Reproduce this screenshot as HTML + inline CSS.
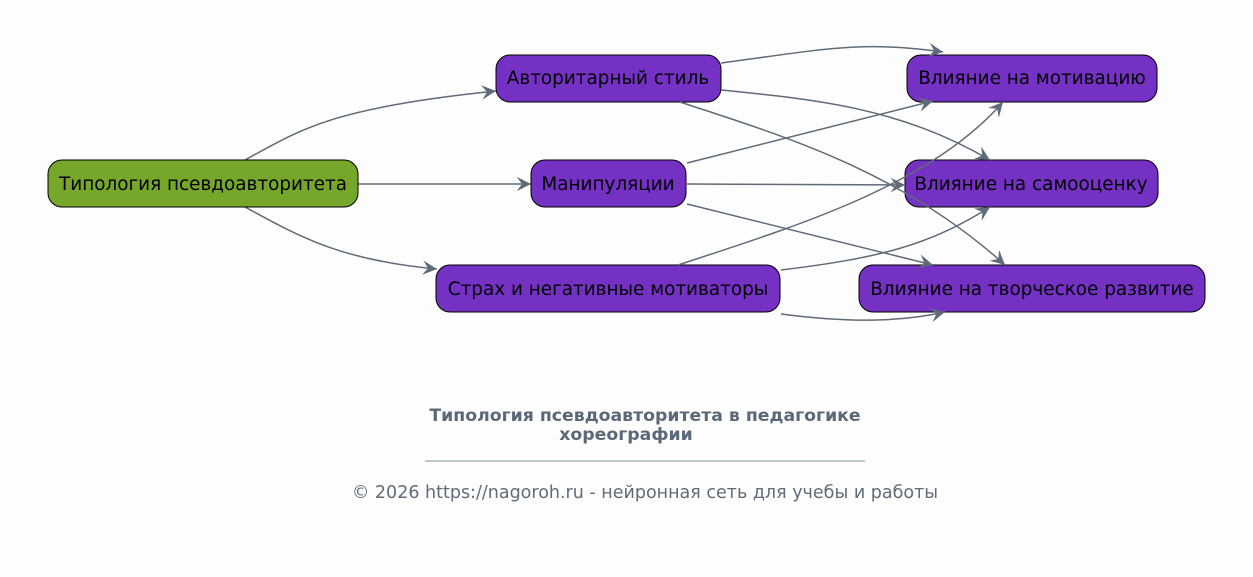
<!DOCTYPE html>
<html><head><meta charset="utf-8"><style>
body{margin:0;background:#fdfdfd;}
svg{display:block;}
text{font-family:"DejaVu Sans","Liberation Sans",sans-serif;}
</style></head><body>
<svg width="1253" height="577" viewBox="0 0 1253 577" xmlns="http://www.w3.org/2000/svg">
<defs>
<marker id="a" viewBox="0 0 20 20" refX="18" refY="10" markerWidth="18" markerHeight="18" markerUnits="userSpaceOnUse" orient="auto">
<path d="M2,2 L18,10 L2,18 L8,10 Z" fill="#5f6b78"/>
</marker>
</defs>
<rect width="1253" height="577" fill="#fdfdfd"/>
<g fill="none" stroke="#5f6b78" stroke-width="1.5">
<path d="M245,160 C300,130 330,108 496,91" marker-end="url(#a)"/>
<path d="M358,184 L531,184" marker-end="url(#a)"/>
<path d="M245,207 C300,237 340,260 437,269" marker-end="url(#a)"/>
</g>
<g stroke="#000" stroke-width="1">
<rect x="48" y="160" width="310" height="47" rx="14" fill="#76a72a"/>
<rect x="496" y="55" width="225" height="47" rx="14" fill="#7431c4"/>
<rect x="531" y="160" width="155" height="47" rx="14" fill="#7431c4"/>
<rect x="436" y="265" width="344" height="47" rx="14" fill="#7431c4"/>
<rect x="907" y="55" width="250" height="47" rx="14" fill="#7431c4"/>
<rect x="905" y="160" width="253" height="47" rx="14" fill="#7431c4"/>
<rect x="859" y="265" width="346" height="47" rx="14" fill="#7431c4"/>
</g>
<g fill="none" stroke="#5f6b78" stroke-width="1.5">
<path d="M721,63 C820,50 860,40 943,52" marker-end="url(#a)"/>
<path d="M721,90 C820,100 900,108 990,160" marker-end="url(#a)"/>
<path d="M680,102 C780,135 900,170 1005,265" marker-end="url(#a)"/>
<path d="M687,163 L933,101" marker-end="url(#a)"/>
<path d="M687,184 C780,185 850,185 905,185" marker-end="url(#a)"/>
<path d="M687,204 L933,265" marker-end="url(#a)"/>
<path d="M678,265 C800,225 930,185 1003,102" marker-end="url(#a)"/>
<path d="M781,270 C880,258 930,245 990,207" marker-end="url(#a)"/>
<path d="M781,314 C850,323 900,322 945,312" marker-end="url(#a)"/>
</g>
<g font-size="18.4" fill="#000" text-anchor="middle">
<text x="203" y="190">Типология псевдоавторитета</text>
<text x="608" y="84">Авторитарный стиль</text>
<text x="608" y="190">Манипуляции</text>
<text x="608" y="295">Страх и негативные мотиваторы</text>
<text x="1032" y="84">Влияние на мотивацию</text>
<text x="1031" y="190">Влияние на самооценку</text>
<text x="1032" y="295">Влияние на творческое развитие</text>
</g>
<g fill="#5a6878" text-anchor="middle">
<text x="645" y="421" font-size="17.3" font-weight="bold">Типология псевдоавторитета в педагогике</text>
<text x="626" y="440" font-size="17.3" font-weight="bold">хореографии</text>
<text x="645" y="498" font-size="17.5" fill="#606c78">© 2026 https://nagoroh.ru - нейронная сеть для учебы и работы</text>
</g>
<line x1="425" y1="461" x2="865" y2="461" stroke="#5a6878" stroke-width="0.8"/>
</svg>
</body></html>
